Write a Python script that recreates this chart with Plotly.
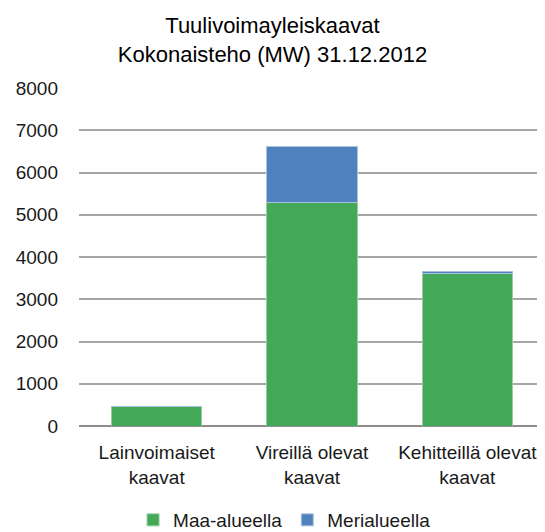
import plotly.graph_objects as go

categories = ["Lainvoimaiset<br>kaavat", "Vireillä olevat<br>kaavat", "Kehitteillä olevat<br>kaavat"]
maa_alueella = [470, 5300, 3620]
merialueella = [0, 1310, 40]

FONT = "Liberation Sans, Arial, Helvetica, sans-serif"

fig = go.Figure()
fig.add_trace(go.Bar(x=categories, y=maa_alueella, name="Maa-alueella",
                     marker=dict(color="#43a857", line=dict(color="#8fd19b", width=1))))
fig.add_trace(go.Bar(x=categories, y=merialueella, name="Merialueella",
                     marker=dict(color="#4f81bd", line=dict(color="#a8c2e0", width=1))))

# page has an 8px body margin, so the figure is shifted by 8px
fig.update_layout(
    barmode="stack",
    bargap=0.42,
    width=537, height=524,
    margin=dict(l=71, r=0, t=80, b=106),
    paper_bgcolor="white", plot_bgcolor="white",
    font=dict(family=FONT, size=19, color="#1a1a1a"),
    title=dict(text="Tuulivoimayleiskaavat<br>Kokonaisteho (MW) 31.12.2012",
               x=0.4925, xref="container", xanchor="center",
               y=1 - 25 / 524, yref="container", yanchor="middle",
               font=dict(size=22, color="#000000")),
    xaxis=dict(range=[-0.5, 2.5], showgrid=False, ticks="", showline=False,
               ticklabelstandoff=13, tickfont=dict(size=19, color="#1a1a1a")),
    yaxis=dict(range=[0, 8000], dtick=1000, showgrid=True, gridcolor="#a6a6a6", gridwidth=1.5,
               zeroline=True, zerolinecolor="#8c8c8c", zerolinewidth=2,
               ticks="", ticklabelstandoff=20, tickfont=dict(size=19, color="#1a1a1a")),
    legend=dict(orientation="h", x=0.515, xref="container", xanchor="center",
                y=12 / 524, yref="container", yanchor="middle",
                font=dict(size=19), itemwidth=30, traceorder="normal"),
)

fig.write_html("out.html")
